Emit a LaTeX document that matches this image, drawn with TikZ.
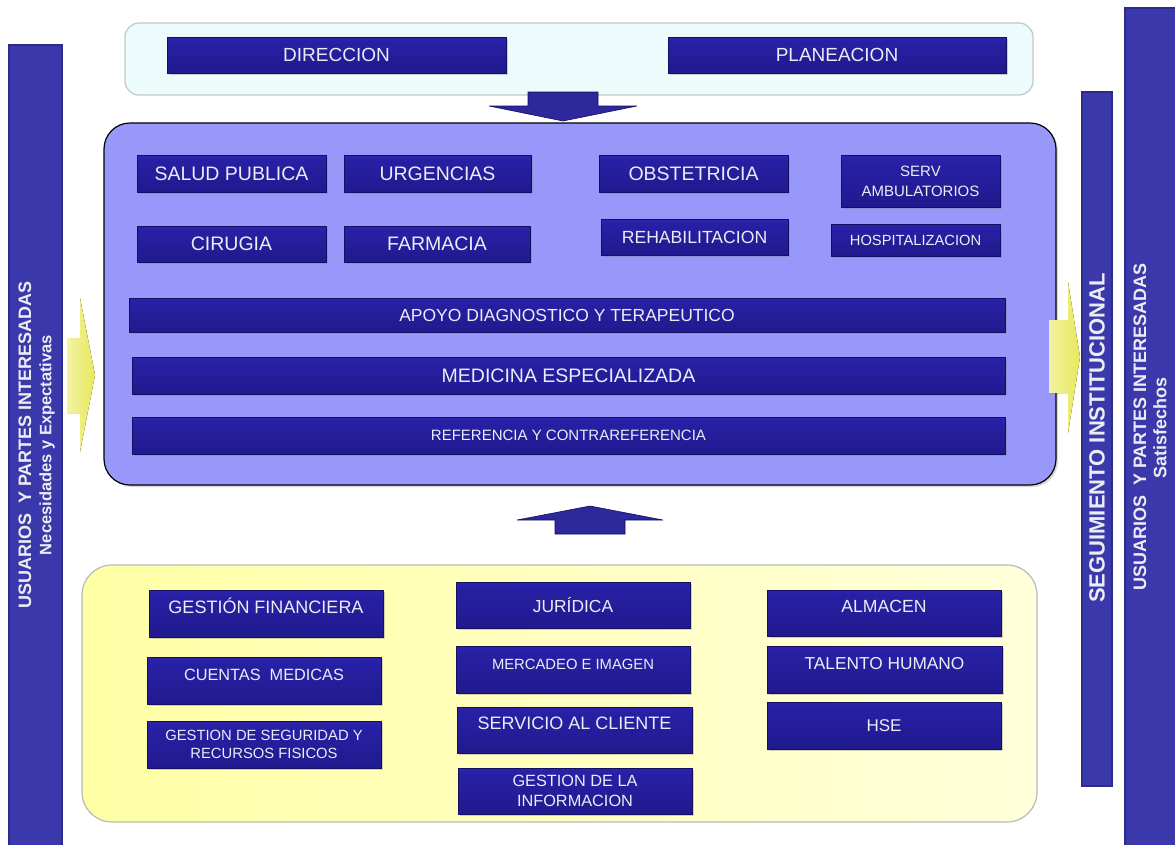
\documentclass[tikz,border=0pt]{standalone}
\usepackage{fontspec}
\setmainfont{Liberation Sans}
\usetikzlibrary{shadows}

\definecolor{barTop}{RGB}{104,104,232}
\definecolor{barHigh}{RGB}{54,48,186}
\definecolor{barMid}{RGB}{40,32,165}
\definecolor{barLow}{RGB}{32,25,140}
\definecolor{barBot}{RGB}{20,15,98}
\definecolor{barText}{RGB}{236,236,244}
\definecolor{sideFill}{RGB}{58,56,170}
\definecolor{sideEdge}{RGB}{44,42,138}
\definecolor{midFill}{RGB}{152,152,250}
\definecolor{topFill}{RGB}{236,251,251}
\definecolor{lowFill}{RGB}{255,255,165}
\definecolor{lowFill2}{RGB}{255,255,218}
\definecolor{flowYellow}{RGB}{232,232,90}

\pgfdeclareverticalshading{unitshade}{100bp}{color(0bp)=(barBot); color(22bp)=(barLow);
  color(70bp)=(barMid); color(90bp)=(barHigh); color(100bp)=(barTop)}

\tikzset{
  unit/.style={draw=barBot, line width=0.4pt, shading=unitshade,
    text=barText, align=center, inner sep=1pt,
    drop shadow={shadow xshift=2pt, shadow yshift=-2pt, opacity=0.35}},
  side/.style={draw=sideEdge, line width=2pt, fill=sideFill},
  sidetxt/.style={text=barText, rotate=90},
  hi/.style={text height=13pt, text depth=14pt},
  blockarrow/.style={fill={rgb,255:red,45;green,40;blue,155}, draw=barBot, line width=0.6pt},
  flow/.style={left color=flowYellow!55!white, right color=flowYellow},
}

\begin{document}
\begin{tikzpicture}[x=1pt, y=-1pt]
  \useasboundingbox (0,0) rectangle (1175,844);
  \fill[white] (0,0) rectangle (1175,844);

  % containers
  \draw[fill=topFill, draw=gray!45, line width=1.2pt, rounded corners=14pt] (125,23) rectangle (1033,95);
  \draw[fill=midFill, line width=1.2pt, rounded corners=26pt,
    drop shadow={shadow xshift=2pt, shadow yshift=-2pt, opacity=0.3}] (104,123) rectangle (1056,485);
  \draw[left color=lowFill, right color=lowFill2, draw=gray!55, line width=1.2pt, rounded corners=30pt] (82,565) rectangle (1037,822);

  % side bars
  \draw[side] (9,45) rectangle (62,850);
  \draw[side] (1082,92) rectangle (1112,786);
  \draw[side] (1125,8) rectangle (1180,850);

  \node[sidetxt, font=\bfseries\fontsize{18}{20}\selectfont] (usrL) at (25,445) {USUARIOS~ Y PARTES INTERESADAS};
  \node[sidetxt, font=\bfseries\fontsize{16.5}{18}\selectfont] (needL) at (47,445) {Necesidades y Expectativas};
  \node[sidetxt, font=\bfseries\fontsize{22}{24}\selectfont] (follow) at (1097,438) {SEGUIMIENTO INSTITUCIONAL};
  \node[sidetxt, font=\bfseries\fontsize{18}{20}\selectfont] (usrR) at (1140,427) {USUARIOS~ Y PARTES INTERESADAS};
  \node[sidetxt, font=\bfseries\fontsize{18}{20}\selectfont] (satR) at (1160,428) {Satisfechos};

  % arrows
  \draw[blockarrow] (528,92) -- (598,92) -- (598,106) -- (637,106) -- (563,121) -- (489,106) -- (528,106) -- cycle;
  \draw[blockarrow] (555,534) -- (625,534) -- (625,520) -- (663,520) -- (590,506) -- (517,520) -- (555,520) -- cycle;
  \fill[flow] (67,338) -- (80,338) -- (80,298) -- (95,375) -- (80,452) -- (80,413) -- (67,413) -- cycle;
  \fill[flow] (1049,320) -- (1068,320) -- (1068,282) -- (1080,357) -- (1068,433) -- (1068,393) -- (1049,393) -- cycle;

  % top
  \node[unit, minimum width=339, minimum height=36, font=\fontsize{19}{21}\selectfont] (dir) at (336.5,55) {DIRECCION};
  \node[unit, minimum width=338, minimum height=36, font=\fontsize{19}{21}\selectfont] (plan) at (837,55) {PLANEACION};

  % middle
  \node[unit, minimum width=189, minimum height=37, font=\fontsize{19.5}{22}\selectfont] (salud) at (231.5,173.5) {SALUD PUBLICA};
  \node[unit, minimum width=187, minimum height=37, font=\fontsize{19.5}{22}\selectfont] (urg) at (437.5,173.5) {URGENCIAS};
  \node[unit, minimum width=189, minimum height=37, font=\fontsize{19.5}{22}\selectfont] (obst) at (693.5,173.5) {OBSTETRICIA};
  \node[unit, minimum width=159, minimum height=52, font=\fontsize{15}{20}\selectfont] (amb) at (920.5,181) {SERV\\AMBULATORIOS};
  \node[unit, minimum width=189, minimum height=36, font=\fontsize{19.5}{22}\selectfont] (cir) at (231.5,244) {CIRUGIA};
  \node[unit, minimum width=186, minimum height=36, font=\fontsize{19.5}{22}\selectfont] (farm) at (437,244) {FARMACIA};
  \node[unit, minimum width=187, minimum height=36, font=\fontsize{17.6}{20}\selectfont] (rehab) at (694.5,237) {REHABILITACION};
  \node[unit, minimum width=169, minimum height=32, font=\fontsize{14.7}{17}\selectfont] (hosp) at (915.5,240) {HOSPITALIZACION};
  \node[unit, minimum width=876, minimum height=34, font=\fontsize{17.5}{20}\selectfont] (apoyo) at (567,315) {APOYO DIAGNOSTICO Y TERAPEUTICO};
  \node[unit, minimum width=873, minimum height=37, font=\fontsize{19.5}{22}\selectfont] (med) at (568.5,375.5) {MEDICINA ESPECIALIZADA};
  \node[unit, minimum width=873, minimum height=37, font=\fontsize{15}{18}\selectfont] (ref) at (568.5,435.5) {REFERENCIA Y CONTRAREFERENCIA};

  % bottom
  \node[unit, hi, minimum width=234, minimum height=47, font=\fontsize{18}{20}\selectfont] (fin) at (266,613.5) {GESTIÓN FINANCIERA};
  \node[unit, hi, minimum width=234, minimum height=47, font=\fontsize{16.3}{19}\selectfont] (cue) at (264,680.5) {CUENTAS~ MEDICAS};
  \node[unit, minimum width=234, minimum height=47, font=\fontsize{14.8}{18}\selectfont] (segu) at (264,744.5) {GESTION DE SEGURIDAD Y\\RECURSOS FISICOS};
  \node[unit, minimum width=234, minimum height=46, font=\fontsize{17.4}{20}\selectfont] (jur) at (573,605) {JURÍDICA};
  \node[unit, hi, minimum width=234, minimum height=47, font=\fontsize{14.8}{17}\selectfont] (merc) at (573,669.5) {MERCADEO E IMAGEN};
  \node[unit, hi, minimum width=235, minimum height=46, font=\fontsize{18}{20}\selectfont] (cli) at (574.5,730) {SERVICIO AL CLIENTE};
  \node[unit, minimum width=234, minimum height=46, font=\fontsize{16.3}{20}\selectfont] (info) at (575,791) {GESTION DE LA\\INFORMACION};
  \node[unit, hi, minimum width=234, minimum height=46, font=\fontsize{17.6}{20}\selectfont] (alm) at (884,613) {ALMACEN};
  \node[unit, hi, minimum width=235, minimum height=47, font=\fontsize{17.3}{20}\selectfont] (tal) at (884.5,669.5) {TALENTO HUMANO};
  \node[unit, minimum width=234, minimum height=47, font=\fontsize{17}{20}\selectfont] (hse) at (884,725.5) {HSE};
\end{tikzpicture}
\end{document}
